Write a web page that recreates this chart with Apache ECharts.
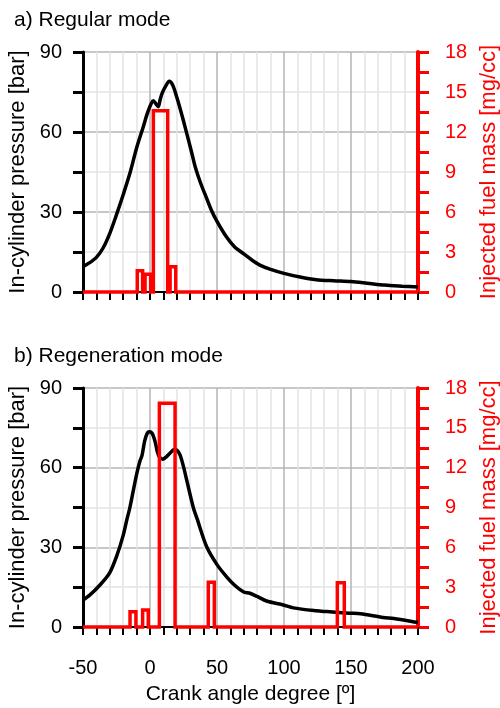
<!DOCTYPE html>
<html>
<head>
<meta charset="utf-8">
<script src="https://cdn.jsdelivr.net/npm/echarts@6/dist/echarts.min.js"></script>
<style>html,body{margin:0;padding:0;background:#fff}#c{width:500px;height:708px}</style>
</head>
<body>
<div id="c"></div>
<script>
// Panel a) Regular mode
var angleA = [-50,-45,-40,-35,-30,-25,-20,-15,-10,-5,-2,1,2.5,4.5,6.2,7.5,9,12,14.4,17,20,24,27.4,31,34,38,42,46,50,57,63,70,76,82,90,100,112,124,137,150,162,175,188,200];
var pressureA = [9.5,11,13,16.5,22,29,36.5,44.5,54,62,67,70.8,71.7,70.5,69.5,72,74.5,77.5,79,77.5,73,66,59.5,52.5,46.5,40.5,35.5,30.5,26.5,20.7,17,14.3,12,10.1,8.5,7,5.6,4.6,4.2,3.9,3.3,2.6,2.2,1.9];
var pulseStartA = [-9.5,-3.7,2.5,15];
var pulseEndA = [-5.5,0.5,13.2,19.2];
var pulseMassA = [1.6,1.33,13.6,1.9];

// Panel b) Regeneration mode
var angleB = [-50,-45,-37,-30,-25,-20,-17,-15,-10,-7.5,-6,-4,-2,-0.5,1.5,3.7,5.5,7,9.5,12,15,18,20,22.4,25,27.4,32.3,35,42.3,50,57.2,63,69.6,74.6,80,87,99.5,107,124,132,149,157,174,182,199,200];
var pressureB = [10.2,12,16,20.5,26.5,34.5,41,45,57.5,62.5,64.5,70,73,73.5,73,70,66,64,63.2,64,65.5,66.8,66.6,64.8,60.4,55.3,45,41,30.2,23.5,18.9,15.8,13.3,12.7,11.5,9.8,8.3,7.2,6.1,5.8,5.2,5.0,3.6,3.2,1.8,1.7];
var pulseStartB = [-14.9,-5.5,7,43.5,139.8];
var pulseEndB = [-10.5,-1.3,18.7,48,145];
var pulseMassB = [1.15,1.28,16.85,3.37,3.34];

// Axis ticks
var xMin = -50, xMax = 200, xStep = 50;
var pMax = 90, pStep = 30;
var mMax = 18, mStep = 3;

var titles = ['a) Regular mode', 'b) Regeneration mode'];
var xName = 'Crank angle degree [º]';
var pName = 'In-cylinder pressure [bar]';
var mName = 'Injected fuel mass [mg/cc]';

function zip(xs, ys) { return xs.map(function (x, i) { return [x, ys[i]]; }); }
function pulses(st, en, m) {
  var d = [[xMin, 0]];
  for (var i = 0; i < st.length; i++) {
    d.push([st[i], 0], [st[i], m[i]], [en[i], m[i]], [en[i], 0]);
  }
  d.push([xMax, 0]);
  return d;
}

var FONT = 'Liberation Sans';
var grids = [
  { left: 83, right: 82, top: 52, height: 240, containLabel: false, outerBoundsMode: 'none' },
  { left: 83, right: 82, top: 388, height: 239, containLabel: false, outerBoundsMode: 'none' }
];

var xAxes = [], yAxes = [], series = [];
[0, 1].forEach(function (g) {
  xAxes.push({
    type: 'value', gridIndex: g, min: xMin, max: xMax, interval: xStep,
    name: g === 1 ? xName : '', nameLocation: 'middle', nameGap: 57,
    nameTextStyle: { color: '#000', fontSize: 21, fontFamily: FONT },
    axisLine: { show: true, onZero: false, lineStyle: { color: '#000', width: 2 } },
    axisTick: { show: true, length: 8, lineStyle: { color: '#000', width: 2 } },
    minorTick: { show: true, splitNumber: 5, length: 8, lineStyle: { color: '#000', width: 2 } },
    axisLabel: { show: g === 1, color: '#000', fontSize: 20, fontFamily: FONT, margin: 31 },
    splitLine: { show: true, lineStyle: { color: '#b4b4b4', width: 1.5 } },
    minorSplitLine: { show: true, lineStyle: { color: '#e4e4e4', width: 1.5 } }
  });
  yAxes.push({
    type: 'value', gridIndex: g, min: 0, max: pMax, interval: pStep, position: 'left',
    name: pName, nameLocation: 'middle', nameGap: 52, nameRotate: 90,
    nameTextStyle: { color: '#000', fontSize: 22, fontFamily: FONT },
    axisLine: { show: true, onZero: false, lineStyle: { color: '#000', width: 3 } },
    axisTick: { show: true, length: 10, lineStyle: { color: '#000', width: 3 } },
    minorTick: { show: true, splitNumber: 2, length: 10, lineStyle: { color: '#000', width: 3 } },
    axisLabel: { color: '#000', fontSize: 20, fontFamily: FONT, margin: 21 },
    splitLine: { show: true, lineStyle: { color: '#b4b4b4', width: 1.5 } },
    minorSplitLine: { show: true, lineStyle: { color: '#e4e4e4', width: 1.5 } }
  });
  yAxes.push({
    type: 'value', gridIndex: g, min: 0, max: mMax, interval: mStep, position: 'right',
    name: mName, nameLocation: 'middle', nameGap: 59, nameRotate: 90,
    nameTextStyle: { color: '#ff0000', fontSize: 22, fontFamily: FONT },
    axisLine: { show: true, onZero: false, lineStyle: { color: '#ff0000', width: 4 } },
    axisTick: { show: true, length: 11, lineStyle: { color: '#ff0000', width: 3 } },
    minorTick: { show: true, splitNumber: 2, length: 11, lineStyle: { color: '#ff0000', width: 3 } },
    axisLabel: { color: '#ff0000', fontSize: 20, fontFamily: FONT, margin: 27 },
    splitLine: { show: false },
    minorSplitLine: { show: false }
  });
});

series.push({
  type: 'line', xAxisIndex: 0, yAxisIndex: 0, data: zip(angleA, pressureA),
  smooth: 0.3, showSymbol: false, lineStyle: { color: '#000', width: 3.5 }, z: 3
});
series.push({
  type: 'line', xAxisIndex: 0, yAxisIndex: 1, data: pulses(pulseStartA, pulseEndA, pulseMassA),
  showSymbol: false, clip: false, lineStyle: { color: '#ff0000', width: 3.5, join: 'miter' }, z: 4
});
series.push({
  type: 'line', xAxisIndex: 1, yAxisIndex: 2, data: zip(angleB, pressureB),
  smooth: 0.3, showSymbol: false, lineStyle: { color: '#000', width: 3.5 }, z: 3
});
series.push({
  type: 'line', xAxisIndex: 1, yAxisIndex: 3, data: pulses(pulseStartB, pulseEndB, pulseMassB),
  showSymbol: false, clip: false, lineStyle: { color: '#ff0000', width: 3.5, join: 'miter' }, z: 4
});

var chart = echarts.init(document.getElementById('c'), null, { renderer: 'canvas' });
chart.setOption({
  animation: false,
  backgroundColor: '#fff',
  title: [
    { text: titles[0], left: 9, top: 5, textStyle: { color: '#000', fontSize: 21, fontWeight: 'normal', fontFamily: FONT } },
    { text: titles[1], left: 9, top: 341, textStyle: { color: '#000', fontSize: 21, fontWeight: 'normal', fontFamily: FONT } }
  ],
  grid: grids,
  xAxis: xAxes,
  yAxis: yAxes,
  series: series
});
</script>
</body>
</html>
